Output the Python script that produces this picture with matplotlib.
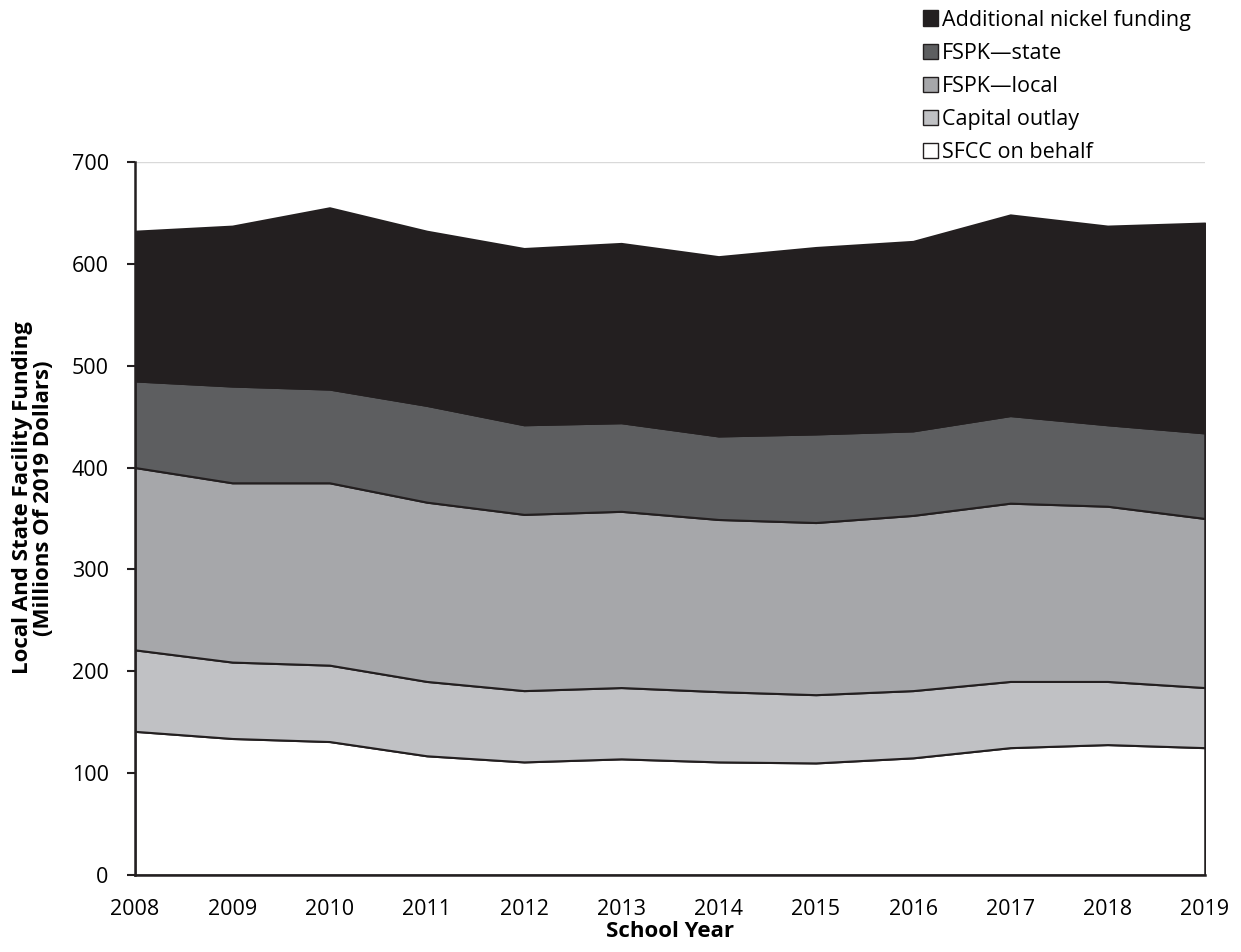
import matplotlib.pyplot as plt
from matplotlib.patches import Patch

plt.rcParams['font.family'] = ['Open Sans', 'DejaVu Sans']

years = list(range(2008, 2020))

# cumulative tops, converted to layer values below
sfcc_top = [141, 134, 131, 117, 111, 114, 111, 110, 115, 125, 128, 125]
capital_top = [221, 209, 206, 190, 181, 184, 180, 177, 181, 190, 190, 184]
local_top = [400, 385, 385, 366, 354, 357, 349, 346, 353, 365, 362, 350]
state_top = [485, 480, 477, 461, 442, 444, 431, 433, 436, 451, 442, 434]
total_top = [632, 637, 655, 632, 615, 620, 607, 616, 622, 648, 637, 640]

sfcc = sfcc_top
capital = [c - s for c, s in zip(capital_top, sfcc_top)]
fspk_local = [l - c for l, c in zip(local_top, capital_top)]
fspk_state = [s - l for s, l in zip(state_top, local_top)]
nickel = [t - s for t, s in zip(total_top, state_top)]

labels = ["SFCC on behalf", "Capital outlay", "FSPK\u2014local",
          "FSPK\u2014state", "Additional nickel funding"]
colors = ["#ffffff", "#c0c1c4", "#a6a7aa", "#5d5e60", "#231f20"]

fig = plt.figure(figsize=(12.41, 9.52), dpi=100)
ax = fig.add_axes([0.1088, 0.0809, 0.862, 0.749])

ax.yaxis.grid(True, color="#d9d9d9", linewidth=1)
ax.set_axisbelow(True)

ax.stackplot(years, sfcc, capital, fspk_local, fspk_state, nickel,
             colors=colors, edgecolor="#231f20", linewidth=1.5, zorder=2)

ax.set_xlim(2008, 2019)
ax.set_ylim(0, 700)
ax.set_xticks(years)
ax.set_yticks(range(0, 701, 100))
ax.tick_params(axis='x', labelsize=15.5, length=0, pad=17)
ax.tick_params(axis='y', labelsize=15.5, length=6, width=1.5,
               color="#231f20", pad=13)

for side in ["top", "right"]:
    ax.spines[side].set_visible(False)
ax.spines["left"].set_linewidth(1.8)
ax.spines["left"].set_color("#231f20")
ax.spines["bottom"].set_linewidth(1.8)
ax.spines["bottom"].set_color("#231f20")
ax.spines["left"].set_zorder(5)
ax.spines["bottom"].set_zorder(5)

ax.set_xlabel("School Year", fontsize=16, fontweight="bold", labelpad=1)
ax.set_ylabel("Local And State Facility Funding\n(Millions Of 2019 Dollars)",
              fontsize=16, fontweight="bold", linespacing=1.0)
ax.yaxis.set_label_coords(-0.0755, 0.529)

handles = [Patch(facecolor=c, edgecolor="#231f20", linewidth=1) for c in colors]
leg = fig.legend(handles[::-1], labels[::-1], loc="upper left",
                 bbox_to_anchor=(0.737, 0.999), frameon=False, fontsize=15.5,
                 handlelength=0.7, handleheight=0.7, handletextpad=0.15,
                 labelspacing=0.56, borderaxespad=0)

fig.savefig("out.png", dpi=100)
